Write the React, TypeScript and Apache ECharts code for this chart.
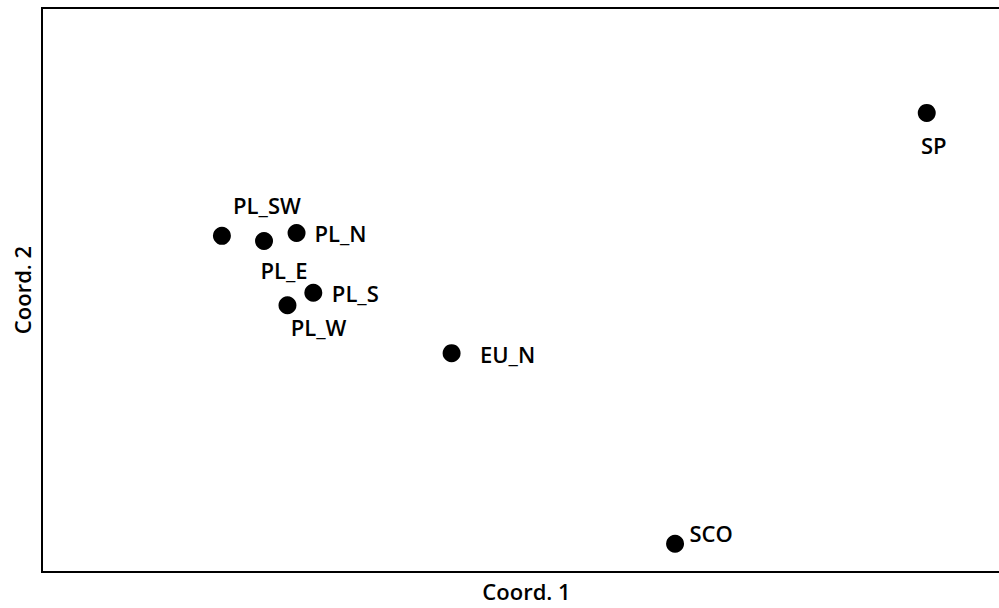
import React, { useEffect, useRef } from "react";
import * as echarts from "echarts";

const names = ["PL_SW", "PL_E", "PL_N", "PL_S", "PL_W", "EU_N", "SCO", "SP"];
const coord1 = [18.8, 23.2, 26.6, 28.35, 25.65, 42.8, 66.15, 92.45];
const coord2 = [59.6, 58.7, 60.1, 49.5, 47.3, 38.8, 5.0, 81.4];
const labelOffsets: [number, number][] = [
  [45, -31],
  [20, 29],
  [44, 0],
  [42, 0],
  [31, 22],
  [56, 1],
  [36, -11],
  [7, 32],
];

export default function App() {
  const ref = useRef<HTMLDivElement>(null);
  useEffect(() => {
    const chart = echarts.init(ref.current!, undefined, {
      renderer: "svg",
      width: 999,
      height: 608,
    });
    const font = "'Open Sans', 'Liberation Sans', sans-serif";
    const line = { show: true, lineStyle: { color: "#000", width: 2, cap: "square" } };
    const hidden = {
      axisTick: { show: false },
      axisLabel: { show: false },
      splitLine: { show: false },
    };
    chart.setOption({
      animation: false,
      backgroundColor: "#fff",
      grid: {
        left: 42,
        right: 0,
        top: 8,
        bottom: 36,
        show: false,
      },
      xAxis: [
        {
          type: "value",
          min: 0,
          max: 100,
          position: "bottom",
          name: "Coord. 1",
          nameLocation: "middle",
          nameGap: 8,
          nameTextStyle: {
            fontFamily: font,
            fontSize: 22,
            fontWeight: 600,
            color: "#000",
            padding: [0, 0, 0, 12],
          },
          axisLine: line,
          ...hidden,
        },
        {
          type: "value",
          min: 0,
          max: 100,
          position: "top",
          axisLine: line,
          ...hidden,
        },
      ],
      yAxis: {
        type: "value",
        min: 0,
        max: 100,
        name: "Coord. 2",
        nameLocation: "middle",
        nameGap: 9,
        nameTextStyle: { fontFamily: font, fontSize: 22, fontWeight: 600, color: "#000" },
        axisLine: line,
        ...hidden,
      },
      series: [
        {
          type: "scatter",
          xAxisIndex: 0,
          symbol: "circle",
          symbolSize: 18,
          itemStyle: { color: "#000", opacity: 1 },
          data: names.map((n, i) => ({
            name: n,
            value: [coord1[i], coord2[i]],
            label: {
              show: true,
              position: "inside",
              align: "center",
              verticalAlign: "middle",
              offset: labelOffsets[i],
              formatter: n,
              fontFamily: font,
              fontSize: 22,
              fontWeight: 600,
              color: "#000",
            },
          })),
        },
      ],
    });
    return () => chart.dispose();
  }, []);
  return (
    <div
      ref={ref}
      style={{ position: "fixed", left: 0, top: 0, width: 999, height: 608 }}
    />
  );
}
